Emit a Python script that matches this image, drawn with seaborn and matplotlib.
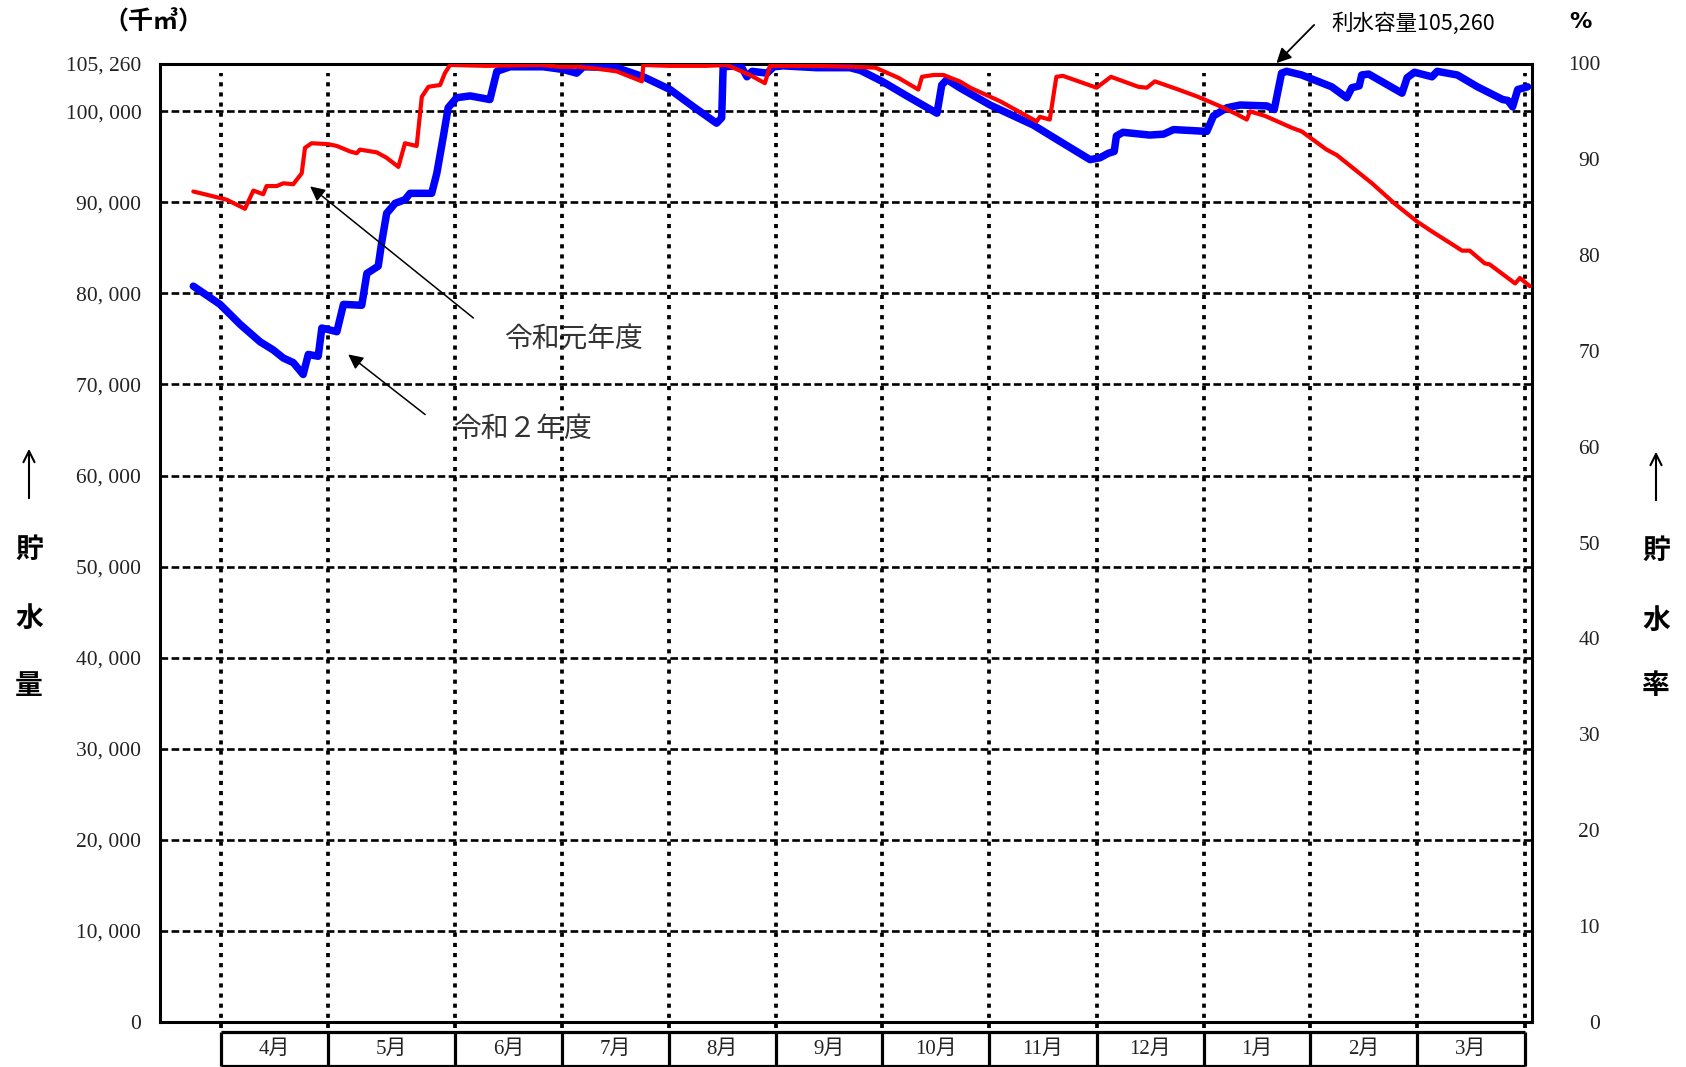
import matplotlib
matplotlib.use("Agg")
import matplotlib.pyplot as plt
import seaborn as sns
import pandas as pd

# ---------------- data ----------------
CAPACITY = 105260
months = ['4月', '5月', '6月', '7月', '8月', '9月', '10月', '11月', '12月', '1月', '2月', '3月']
month_edges = [7.5, 36.9, 71.5, 100.6, 129.9, 159.0, 188.2, 217.4, 246.7, 275.9, 305.1, 334.2, 363.7]
left_ticks = [0, 10000, 20000, 30000, 40000, 50000, 60000, 70000, 80000, 90000, 100000, 105260]
left_labels = ['0', '10, 000', '20, 000', '30, 000', '40, 000', '50, 000', '60, 000',
               '70, 000', '80, 000', '90, 000', '100, 000', '105, 260']
right_ticks = [0, 10, 20, 30, 40, 50, 60, 70, 80, 90, 100]
right_labels = ['0', '10', '20', '30', '40', '50', '60', '70', '80', '90', '100']

# 令和元年度 (red)  day index from Apr 1, storage in 千m3
r1_day = [0, 4.1, 9.1, 14.1, 16.4, 19.1, 20.0, 22.8, 24.6, 27.3, 29.6, 30.5, 32.3, 36.9,
          39.2, 42.8, 44.6, 45.5, 50.1, 52.8, 56.0, 57.8, 61.0, 62.4, 64.2, 67.4, 68.7, 70.1,
          80, 95, 100, 105, 110, 115.6, 122.5, 122.9, 130, 140, 145.7, 152.0, 156.1, 157.5,
          170, 180, 186.3, 192.5, 198.0, 199.0, 202.2, 204.9, 206.7, 209.3, 212.2, 220.4,
          230.3, 231.2, 233.9, 235.7, 237.5, 246.7, 250.6, 258.1, 260.4, 262.6, 269.0, 274.4,
          280.8, 285.4, 287.7, 288.6, 292.7, 300.0, 302.7, 309.5, 312.3, 321.9, 328.0, 334.2,
          338.3, 343.8, 346.5, 348.6, 352.7, 354.0, 361.0, 362.3, 365.0]
r1_val = [91200, 90800, 90300, 89300, 91300, 90900, 91800, 91800, 92100, 92000, 93200, 96000,
          96500, 96400, 96200, 95600, 95400, 95800, 95500, 94900, 93900, 96500, 96200, 101600,
          102700, 102900, 104200, 105100, 105000, 105100, 104900, 104900, 104700, 104400, 103300,
          105100, 105000, 105000, 105100, 104000, 103100, 105000, 105000, 104900, 104800, 103700,
          102400, 103800, 104000, 104000, 103700, 103300, 102600, 101100, 98900, 99400, 99100,
          103800, 103900, 102600, 103800, 102700, 102600, 103300, 102400, 101600, 100500, 99600,
          99100, 100000, 99500, 98200, 97800, 95800, 95200, 92100, 89900, 87900, 86800, 85400,
          84700, 84700, 83300, 83200, 81100, 81700, 80800]

# 令和２年度 (blue)
r2_day = [0, 7.3, 12.8, 18.2, 21.8, 24.6, 27.3, 30.0, 31.4, 34.1, 35.1, 39.2, 41.0, 46.0,
          47.4, 50.5, 51.4, 52.8, 55.1, 57.8, 59.2, 65.1, 66.5, 68.3, 69.6, 71.9, 75.6, 81.0,
          82.9, 86.5, 95.6, 101.0, 104.7, 106.5, 115.6, 122.9, 130.2, 136.6, 142.9, 144.3,
          144.7, 148.4, 149.8, 151.2, 152.6, 156.7, 158.5, 161.1, 170.2, 179.3, 182.2, 188.1,
          195.7, 203.1, 204.4, 205.8, 209.3, 217.6, 229.4, 236.7, 244.9, 247.6, 249.9, 251.5,
          252.1, 253.9, 261.2, 265.0, 267.7, 276.8, 278.6, 282.3, 285.9, 293.2, 295.2, 297.2,
          298.6, 302.7, 310.9, 315.0, 316.4, 318.4, 319.1, 321.0, 330.1, 331.5, 333.5, 338.3,
          339.7, 345.2, 350.7, 357.6, 359.0, 360.3, 361.7, 364.4]
r2_val = [80800, 78800, 76600, 74700, 73800, 72900, 72400, 71100, 73300, 73100, 76200, 75800,
          78800, 78700, 82200, 83000, 85500, 88800, 89900, 90300, 91000, 91000, 93200, 97300,
          100400, 101500, 101700, 101300, 104400, 104900, 104900, 104600, 104200, 104900,
          104800, 103800, 102400, 100500, 98700, 99300, 104900, 105000, 104800, 103800, 104400,
          104200, 104900, 105000, 104800, 104800, 104500, 103300, 101500, 99800, 102900, 103500,
          102600, 100700, 98500, 96700, 94700, 94900, 95400, 95600, 97300, 97700, 97400, 97500,
          98000, 97800, 99500, 100400, 100700, 100600, 100200, 104200, 104400, 104000, 102700,
          101500, 102600, 102800, 104000, 104100, 102000, 103700, 104300, 103800, 104400, 104000,
          102700, 101300, 101200, 100500, 102400, 102700]

# ---------------- style ----------------
sns.set_theme(style="white")
plt.rcParams['font.family'] = ['Noto Sans CJK JP', 'DejaVu Sans']
SERIF = ['Liberation Serif', 'Noto Sans CJK JP']
TXT = '#222222'

W, H = 1686, 1067
fig = plt.figure(figsize=(W / 100, H / 100), dpi=100)

def fx(px):
    return px / W

def fy(py):
    return 1 - py / H

AX_L, AX_R, AX_T, AX_B = 160, 1532, 63.5, 1021.7
ax = fig.add_axes([fx(AX_L), fy(AX_B), fx(AX_R) - fx(AX_L), fy(AX_T) - fy(AX_B)])
XMIN, XMAX = -9.1, 365.6
ax.set_xlim(XMIN, XMAX)
ax.set_ylim(0, CAPACITY)

# grid
for v in left_ticks[1:-1]:
    ax.axhline(v, color='black', lw=1.9, linestyle=(0, (2.9, 1.3)), zorder=1)
ax.vlines(month_edges, -700, 104200, color='black', lw=2.7,
          linestyles=[(0, (1.1, 1.6))], zorder=1, clip_on=False)

df1 = pd.DataFrame({'day': r1_day, 'vol': r1_val})
df2 = pd.DataFrame({'day': r2_day, 'vol': r2_val})
sns.lineplot(data=df2, x='day', y='vol', ax=ax, color='#0000ff', lw=5.4,
             estimator=None, sort=False, zorder=3, solid_capstyle='round',
             solid_joinstyle='round', legend=False)
sns.lineplot(data=df1, x='day', y='vol', ax=ax, color='#ff0000', lw=3.0,
             estimator=None, sort=False, zorder=4, solid_capstyle='round',
             solid_joinstyle='round', legend=False)

ax.set_xlabel('')
ax.set_ylabel('')
ax.set_xticks([])
ax.set_yticks(left_ticks)
ax.set_yticklabels(left_labels, family=SERIF, fontsize=15.5, color=TXT)
ax.tick_params(axis='y', length=0, pad=13.5)
for s in ax.spines.values():
    s.set_color('black')
    s.set_linewidth(2.2)
    s.set_visible(True)

ax2 = ax.twinx()
ax2.set_ylim(0, 100)
ax2.set_yticks(right_ticks)
ax2.set_yticklabels(right_labels, family=SERIF, fontsize=15.5, color=TXT, ha='right')
ax2.tick_params(axis='y', length=0, pad=49)
ax2.grid(False)
for s in ax2.spines.values():
    s.set_visible(False)

# annotations
ax.annotate('', xy=(31.9, 91760), xytext=(76.5, 77300),
            arrowprops=dict(arrowstyle='-|>', color='black', lw=1.1,
                            mutation_scale=22, shrinkA=0, shrinkB=0))
ax.text(103.8, 74900, '令和元年度', fontsize=20, color='#333333', ha='center', va='center')
ax.annotate('', xy=(42.3, 73300), xytext=(63.3, 66700),
            arrowprops=dict(arrowstyle='-|>', color='black', lw=1.1,
                            mutation_scale=22, shrinkA=0, shrinkB=0))
ax.text(89.9, 65100, '令和２年度', fontsize=20, color='#333333', ha='center', va='center')
ax.annotate('', xy=(295.8, 105300), xytext=(306.1, 109500), annotation_clip=False,
            arrowprops=dict(arrowstyle='-|>', color='black', lw=1.3,
                            mutation_scale=22, shrinkA=0, shrinkB=0))
ax.text(310.7, 109600, '利水容量105,260', fontsize=15.5, color='black',
        ha='left', va='center', clip_on=False)

# month table below axis
ax3 = fig.add_axes([fx(AX_L), fy(1065.5), fx(AX_R) - fx(AX_L), fy(1031.7) - fy(1065.5)])
ax3.set_xlim(XMIN, XMAX)
ax3.set_ylim(0, 1)
ax3.axis('off')
ax3.vlines(month_edges, 0, 1, color='black', lw=2.3, clip_on=False)
ax3.hlines([0, 1], month_edges[0], month_edges[-1], color='black', lw=2.3, clip_on=False)
for i, m in enumerate(months):
    xc = (month_edges[i] + month_edges[i + 1]) / 2
    ax3.text(xc, 0.48, m, family=SERIF, fontsize=15, color=TXT, ha='center', va='center')

# figure-level labels
fig.text(fx(153), fy(22), '（千㎥）', fontsize=18, fontweight='bold',
         ha='center', va='center', color='black')
fig.text(fx(1580.7), fy(21.5), '%', fontsize=16, fontweight='bold',
         ha='center', va='center', color='black', family=['DejaVu Sans'])

for xpos, chars, ys, arr in [(29, '貯水量', (550, 619, 686), (501, 446)),
                             (1656, '貯水率', (551, 621, 686), (503, 449))]:
    for ch, yy in zip(chars, ys):
        fig.text(fx(xpos), fy(yy), ch, fontsize=20, fontweight='bold',
                 ha='center', va='center', color='black')
    fig.add_artist(matplotlib.patches.FancyArrowPatch(
        (fx(xpos), fy(arr[0])), (fx(xpos), fy(arr[1])), transform=fig.transFigure,
        arrowstyle='->', mutation_scale=20, lw=1.5, color='black'))

fig.savefig('out.png', dpi=100)
